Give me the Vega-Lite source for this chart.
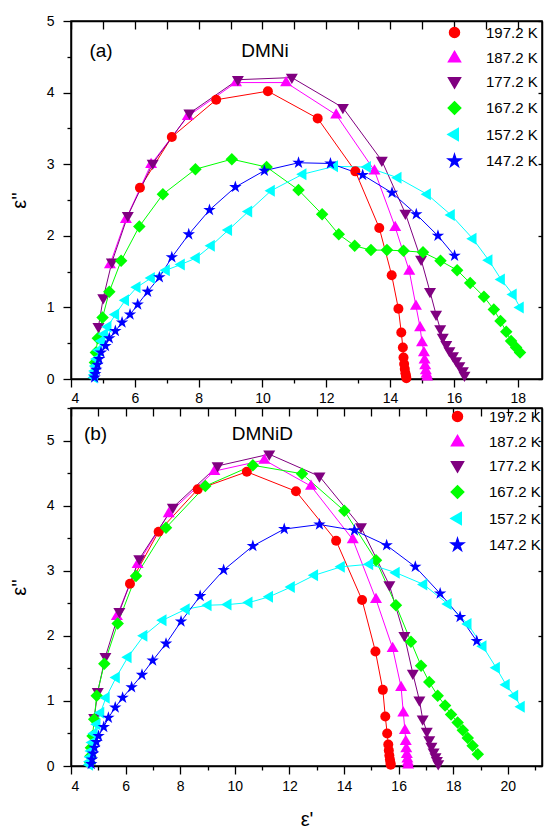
{
"$schema": "https://vega.github.io/schema/vega-lite/v6.json",
"padding": {"left": 8, "top": 13, "right": 0, "bottom": 5},
"background": "white",
"config": {
  "font": "Liberation Sans",
  "view": {"stroke": "black", "strokeWidth": 1.5},
  "axis": {"domainColor": "black", "domainWidth": 1.5, "tickColor": "black", "tickWidth": 1.3, "labelFontSize": 14, "labelColor": "black", "labelFont": "Liberation Sans", "titleFont": "Liberation Sans", "titleFontSize": 20, "titleFontWeight": "normal", "titleColor": "black", "grid": false, "format": "d"},
  "legend": {"orient": "top-right", "padding": 0, "symbolSize": 100, "labelOffset": 24, "rowPadding": 7.5, "labelFontSize": 15, "labelFont": "Liberation Sans", "labelColor": "black"}
},
"datasets": {
"a": [
{"T":"197.2 K","e1":6.16,"e2":2.67},{"T":"197.2 K","e1":7.16,"e2":3.38},{"T":"197.2 K","e1":8.55,"e2":3.90},{"T":"197.2 K","e1":10.17,"e2":4.02},{"T":"197.2 K","e1":11.73,"e2":3.64},{"T":"197.2 K","e1":12.91,"e2":2.90},{"T":"197.2 K","e1":13.66,"e2":2.11},{"T":"197.2 K","e1":14.05,"e2":1.45},{"T":"197.2 K","e1":14.26,"e2":0.98},{"T":"197.2 K","e1":14.35,"e2":0.65},{"T":"197.2 K","e1":14.40,"e2":0.44},{"T":"197.2 K","e1":14.42,"e2":0.30},{"T":"197.2 K","e1":14.44,"e2":0.21},{"T":"197.2 K","e1":14.46,"e2":0.14},{"T":"197.2 K","e1":14.48,"e2":0.08},{"T":"197.2 K","e1":14.50,"e2":0.04},{"T":"197.2 K","e1":14.51,"e2":0.01},
{"T":"187.2 K","e1":5.22,"e2":1.60},{"T":"187.2 K","e1":5.72,"e2":2.23},{"T":"187.2 K","e1":6.51,"e2":3.00},{"T":"187.2 K","e1":7.66,"e2":3.67},{"T":"187.2 K","e1":9.17,"e2":4.14},{"T":"187.2 K","e1":10.74,"e2":4.14},{"T":"187.2 K","e1":12.31,"e2":3.69},{"T":"187.2 K","e1":13.51,"e2":2.91},{"T":"187.2 K","e1":14.16,"e2":2.12},{"T":"187.2 K","e1":14.60,"e2":1.51},{"T":"187.2 K","e1":14.81,"e2":1.02},{"T":"187.2 K","e1":14.94,"e2":0.72},{"T":"187.2 K","e1":15.00,"e2":0.51},{"T":"187.2 K","e1":15.06,"e2":0.37},{"T":"187.2 K","e1":15.08,"e2":0.27},{"T":"187.2 K","e1":15.10,"e2":0.19},{"T":"187.2 K","e1":15.12,"e2":0.12},{"T":"187.2 K","e1":15.14,"e2":0.07},{"T":"187.2 K","e1":15.16,"e2":0.03},
{"T":"177.2 K","e1":4.86,"e2":0.73},{"T":"177.2 K","e1":5.01,"e2":1.13},{"T":"177.2 K","e1":5.28,"e2":1.63},{"T":"177.2 K","e1":5.78,"e2":2.28},{"T":"177.2 K","e1":6.56,"e2":3.01},{"T":"177.2 K","e1":7.71,"e2":3.71},{"T":"177.2 K","e1":9.23,"e2":4.18},{"T":"177.2 K","e1":10.92,"e2":4.21},{"T":"177.2 K","e1":12.52,"e2":3.79},{"T":"177.2 K","e1":13.74,"e2":3.05},{"T":"177.2 K","e1":14.48,"e2":2.31},{"T":"177.2 K","e1":14.97,"e2":1.67},{"T":"177.2 K","e1":15.25,"e2":1.22},{"T":"177.2 K","e1":15.44,"e2":0.90},{"T":"177.2 K","e1":15.57,"e2":0.70},{"T":"177.2 K","e1":15.65,"e2":0.58},{"T":"177.2 K","e1":15.76,"e2":0.48},{"T":"177.2 K","e1":15.86,"e2":0.39},{"T":"177.2 K","e1":15.97,"e2":0.32},{"T":"177.2 K","e1":16.07,"e2":0.25},{"T":"177.2 K","e1":16.17,"e2":0.18},{"T":"177.2 K","e1":16.28,"e2":0.11},{"T":"177.2 K","e1":16.33,"e2":0.05},
{"T":"167.2 K","e1":4.75,"e2":0.23},{"T":"167.2 K","e1":4.78,"e2":0.37},{"T":"167.2 K","e1":4.84,"e2":0.57},{"T":"167.2 K","e1":4.99,"e2":0.86},{"T":"167.2 K","e1":5.20,"e2":1.22},{"T":"167.2 K","e1":5.57,"e2":1.65},{"T":"167.2 K","e1":6.14,"e2":2.13},{"T":"167.2 K","e1":6.88,"e2":2.58},{"T":"167.2 K","e1":7.90,"e2":2.93},{"T":"167.2 K","e1":9.04,"e2":3.07},{"T":"167.2 K","e1":10.13,"e2":2.96},{"T":"167.2 K","e1":11.13,"e2":2.64},{"T":"167.2 K","e1":11.87,"e2":2.30},{"T":"167.2 K","e1":12.39,"e2":2.02},{"T":"167.2 K","e1":12.89,"e2":1.86},{"T":"167.2 K","e1":13.40,"e2":1.80},{"T":"167.2 K","e1":13.90,"e2":1.80},{"T":"167.2 K","e1":14.42,"e2":1.79},{"T":"167.2 K","e1":15.03,"e2":1.77},{"T":"167.2 K","e1":15.58,"e2":1.65},{"T":"167.2 K","e1":16.10,"e2":1.52},{"T":"167.2 K","e1":16.51,"e2":1.34},{"T":"167.2 K","e1":16.94,"e2":1.15},{"T":"167.2 K","e1":17.25,"e2":0.97},{"T":"167.2 K","e1":17.46,"e2":0.81},{"T":"167.2 K","e1":17.64,"e2":0.66},{"T":"167.2 K","e1":17.79,"e2":0.53},{"T":"167.2 K","e1":17.95,"e2":0.44},{"T":"167.2 K","e1":18.07,"e2":0.37},
{"T":"157.2 K","e1":4.72,"e2":0.02},{"T":"157.2 K","e1":4.73,"e2":0.06},{"T":"157.2 K","e1":4.74,"e2":0.11},{"T":"157.2 K","e1":4.76,"e2":0.18},{"T":"157.2 K","e1":4.80,"e2":0.28},{"T":"157.2 K","e1":4.86,"e2":0.40},{"T":"157.2 K","e1":4.95,"e2":0.53},{"T":"157.2 K","e1":5.04,"e2":0.63},{"T":"157.2 K","e1":5.15,"e2":0.73},{"T":"157.2 K","e1":5.39,"e2":0.90},{"T":"157.2 K","e1":5.70,"e2":1.10},{"T":"157.2 K","e1":6.06,"e2":1.28},{"T":"157.2 K","e1":6.51,"e2":1.41},{"T":"157.2 K","e1":6.98,"e2":1.52},{"T":"157.2 K","e1":7.45,"e2":1.60},{"T":"157.2 K","e1":7.92,"e2":1.69},{"T":"157.2 K","e1":8.39,"e2":1.86},{"T":"157.2 K","e1":8.93,"e2":2.08},{"T":"157.2 K","e1":9.56,"e2":2.34},{"T":"157.2 K","e1":10.27,"e2":2.63},{"T":"157.2 K","e1":11.26,"e2":2.86},{"T":"157.2 K","e1":12.25,"e2":2.97},{"T":"157.2 K","e1":13.28,"e2":2.96},{"T":"157.2 K","e1":14.24,"e2":2.81},{"T":"157.2 K","e1":15.16,"e2":2.58},{"T":"157.2 K","e1":15.91,"e2":2.29},{"T":"157.2 K","e1":16.59,"e2":1.96},{"T":"157.2 K","e1":17.09,"e2":1.66},{"T":"157.2 K","e1":17.48,"e2":1.39},{"T":"157.2 K","e1":17.85,"e2":1.18},{"T":"157.2 K","e1":18.07,"e2":1.00},
{"T":"147.2 K","e1":4.74,"e2":0.02},{"T":"147.2 K","e1":4.76,"e2":0.07},{"T":"147.2 K","e1":4.79,"e2":0.13},{"T":"147.2 K","e1":4.83,"e2":0.20},{"T":"147.2 K","e1":4.88,"e2":0.28},{"T":"147.2 K","e1":4.94,"e2":0.37},{"T":"147.2 K","e1":5.08,"e2":0.46},{"T":"147.2 K","e1":5.20,"e2":0.57},{"T":"147.2 K","e1":5.39,"e2":0.67},{"T":"147.2 K","e1":5.60,"e2":0.79},{"T":"147.2 K","e1":5.85,"e2":0.90},{"T":"147.2 K","e1":6.09,"e2":1.04},{"T":"147.2 K","e1":6.40,"e2":1.22},{"T":"147.2 K","e1":6.77,"e2":1.42},{"T":"147.2 K","e1":7.16,"e2":1.70},{"T":"147.2 K","e1":7.69,"e2":2.02},{"T":"147.2 K","e1":8.34,"e2":2.36},{"T":"147.2 K","e1":9.15,"e2":2.68},{"T":"147.2 K","e1":10.06,"e2":2.91},{"T":"147.2 K","e1":11.13,"e2":3.02},{"T":"147.2 K","e1":12.13,"e2":3.01},{"T":"147.2 K","e1":13.14,"e2":2.85},{"T":"147.2 K","e1":14.06,"e2":2.60},{"T":"147.2 K","e1":14.82,"e2":2.30},{"T":"147.2 K","e1":15.50,"e2":2.00},{"T":"147.2 K","e1":16.02,"e2":1.72}
],
"b": [
{"T":"197.2 K","e1":6.16,"e2":2.80},{"T":"197.2 K","e1":7.21,"e2":3.60},{"T":"197.2 K","e1":8.64,"e2":4.25},{"T":"197.2 K","e1":10.44,"e2":4.52},{"T":"197.2 K","e1":12.24,"e2":4.22},{"T":"197.2 K","e1":13.71,"e2":3.46},{"T":"197.2 K","e1":14.66,"e2":2.55},{"T":"197.2 K","e1":15.15,"e2":1.76},{"T":"197.2 K","e1":15.42,"e2":1.17},{"T":"197.2 K","e1":15.51,"e2":0.76},{"T":"197.2 K","e1":15.58,"e2":0.50},{"T":"197.2 K","e1":15.62,"e2":0.33},{"T":"197.2 K","e1":15.64,"e2":0.24},{"T":"197.2 K","e1":15.66,"e2":0.16},{"T":"197.2 K","e1":15.68,"e2":0.10},{"T":"197.2 K","e1":15.70,"e2":0.05},{"T":"197.2 K","e1":15.71,"e2":0.02},
{"T":"187.2 K","e1":5.68,"e2":2.30},{"T":"187.2 K","e1":6.44,"e2":3.10},{"T":"187.2 K","e1":7.58,"e2":3.88},{"T":"187.2 K","e1":9.25,"e2":4.53},{"T":"187.2 K","e1":11.08,"e2":4.70},{"T":"187.2 K","e1":12.79,"e2":4.30},{"T":"187.2 K","e1":14.32,"e2":3.48},{"T":"187.2 K","e1":15.17,"e2":2.56},{"T":"187.2 K","e1":15.78,"e2":1.81},{"T":"187.2 K","e1":16.09,"e2":1.21},{"T":"187.2 K","e1":16.17,"e2":0.82},{"T":"187.2 K","e1":16.23,"e2":0.55},{"T":"187.2 K","e1":16.26,"e2":0.38},{"T":"187.2 K","e1":16.28,"e2":0.27},{"T":"187.2 K","e1":16.30,"e2":0.18},{"T":"187.2 K","e1":16.32,"e2":0.11},{"T":"187.2 K","e1":16.34,"e2":0.06},{"T":"187.2 K","e1":16.35,"e2":0.02},
{"T":"177.2 K","e1":4.85,"e2":0.74},{"T":"177.2 K","e1":4.98,"e2":1.14},{"T":"177.2 K","e1":5.26,"e2":1.68},{"T":"177.2 K","e1":5.77,"e2":2.37},{"T":"177.2 K","e1":6.50,"e2":3.18},{"T":"177.2 K","e1":7.73,"e2":3.97},{"T":"177.2 K","e1":9.37,"e2":4.61},{"T":"177.2 K","e1":11.26,"e2":4.79},{"T":"177.2 K","e1":13.10,"e2":4.45},{"T":"177.2 K","e1":14.62,"e2":3.67},{"T":"177.2 K","e1":15.66,"e2":2.78},{"T":"177.2 K","e1":16.21,"e2":2.00},{"T":"177.2 K","e1":16.52,"e2":1.42},{"T":"177.2 K","e1":16.76,"e2":1.01},{"T":"177.2 K","e1":16.88,"e2":0.72},{"T":"177.2 K","e1":17.03,"e2":0.53},{"T":"177.2 K","e1":17.12,"e2":0.40},{"T":"177.2 K","e1":17.20,"e2":0.30},{"T":"177.2 K","e1":17.28,"e2":0.21},{"T":"177.2 K","e1":17.35,"e2":0.14},{"T":"177.2 K","e1":17.40,"e2":0.08},{"T":"177.2 K","e1":17.45,"e2":0.03},
{"T":"167.2 K","e1":4.70,"e2":0.05},{"T":"167.2 K","e1":4.71,"e2":0.15},{"T":"167.2 K","e1":4.73,"e2":0.28},{"T":"167.2 K","e1":4.79,"e2":0.46},{"T":"167.2 K","e1":4.85,"e2":0.72},{"T":"167.2 K","e1":4.94,"e2":1.08},{"T":"167.2 K","e1":5.22,"e2":1.57},{"T":"167.2 K","e1":5.71,"e2":2.19},{"T":"167.2 K","e1":6.38,"e2":2.92},{"T":"167.2 K","e1":7.48,"e2":3.66},{"T":"167.2 K","e1":8.92,"e2":4.30},{"T":"167.2 K","e1":10.66,"e2":4.62},{"T":"167.2 K","e1":12.46,"e2":4.49},{"T":"167.2 K","e1":14.01,"e2":3.92},{"T":"167.2 K","e1":15.17,"e2":3.16},{"T":"167.2 K","e1":15.90,"e2":2.47},{"T":"167.2 K","e1":16.45,"e2":1.91},{"T":"167.2 K","e1":16.82,"e2":1.54},{"T":"167.2 K","e1":17.12,"e2":1.29},{"T":"167.2 K","e1":17.43,"e2":1.08},{"T":"167.2 K","e1":17.70,"e2":0.93},{"T":"167.2 K","e1":17.92,"e2":0.79},{"T":"167.2 K","e1":18.16,"e2":0.67},{"T":"167.2 K","e1":18.35,"e2":0.55},{"T":"167.2 K","e1":18.53,"e2":0.43},{"T":"167.2 K","e1":18.71,"e2":0.31},{"T":"167.2 K","e1":18.90,"e2":0.18},
{"T":"157.2 K","e1":4.67,"e2":0.02},{"T":"157.2 K","e1":4.68,"e2":0.07},{"T":"157.2 K","e1":4.70,"e2":0.14},{"T":"157.2 K","e1":4.73,"e2":0.23},{"T":"157.2 K","e1":4.77,"e2":0.36},{"T":"157.2 K","e1":4.84,"e2":0.50},{"T":"157.2 K","e1":4.94,"e2":0.64},{"T":"157.2 K","e1":5.08,"e2":0.82},{"T":"157.2 K","e1":5.28,"e2":1.05},{"T":"157.2 K","e1":5.65,"e2":1.36},{"T":"157.2 K","e1":6.08,"e2":1.67},{"T":"157.2 K","e1":6.66,"e2":2.00},{"T":"157.2 K","e1":7.36,"e2":2.24},{"T":"157.2 K","e1":8.21,"e2":2.41},{"T":"157.2 K","e1":9.01,"e2":2.47},{"T":"157.2 K","e1":9.74,"e2":2.48},{"T":"157.2 K","e1":10.51,"e2":2.51},{"T":"157.2 K","e1":11.26,"e2":2.60},{"T":"157.2 K","e1":12.06,"e2":2.75},{"T":"157.2 K","e1":12.91,"e2":2.93},{"T":"157.2 K","e1":13.89,"e2":3.06},{"T":"157.2 K","e1":14.93,"e2":3.10},{"T":"157.2 K","e1":15.90,"e2":2.97},{"T":"157.2 K","e1":16.91,"e2":2.79},{"T":"157.2 K","e1":17.80,"e2":2.49},{"T":"157.2 K","e1":18.53,"e2":2.18},{"T":"157.2 K","e1":19.08,"e2":1.84},{"T":"157.2 K","e1":19.57,"e2":1.51},{"T":"157.2 K","e1":19.93,"e2":1.25},{"T":"157.2 K","e1":20.24,"e2":1.08},{"T":"157.2 K","e1":20.48,"e2":0.91},
{"T":"147.2 K","e1":4.74,"e2":0.03},{"T":"147.2 K","e1":4.77,"e2":0.10},{"T":"147.2 K","e1":4.81,"e2":0.19},{"T":"147.2 K","e1":4.86,"e2":0.28},{"T":"147.2 K","e1":4.93,"e2":0.37},{"T":"147.2 K","e1":5.01,"e2":0.46},{"T":"147.2 K","e1":5.20,"e2":0.60},{"T":"147.2 K","e1":5.37,"e2":0.74},{"T":"147.2 K","e1":5.62,"e2":0.90},{"T":"147.2 K","e1":5.89,"e2":1.05},{"T":"147.2 K","e1":6.22,"e2":1.21},{"T":"147.2 K","e1":6.60,"e2":1.40},{"T":"147.2 K","e1":6.99,"e2":1.62},{"T":"147.2 K","e1":7.48,"e2":1.88},{"T":"147.2 K","e1":8.03,"e2":2.22},{"T":"147.2 K","e1":8.73,"e2":2.61},{"T":"147.2 K","e1":9.59,"e2":3.01},{"T":"147.2 K","e1":10.66,"e2":3.38},{"T":"147.2 K","e1":11.81,"e2":3.64},{"T":"147.2 K","e1":13.10,"e2":3.71},{"T":"147.2 K","e1":14.38,"e2":3.62},{"T":"147.2 K","e1":15.56,"e2":3.39},{"T":"147.2 K","e1":16.61,"e2":3.06},{"T":"147.2 K","e1":17.52,"e2":2.65},{"T":"147.2 K","e1":18.25,"e2":2.29},{"T":"147.2 K","e1":18.86,"e2":1.92}
]
},
"spacing": 29,
"bounds": "flush",
"resolve": {"scale": {"x": "independent", "y": "independent", "color": "independent", "shape": "independent"}, "legend": {"color": "independent", "shape": "independent"}, "axis": {"x": "independent", "y": "independent"}},
"vconcat": [
{
  "width": 471, "height": 358,
  "layer": [
    {"data": {"name": "a"}, "mark": {"type": "line", "strokeWidth": 1},
     "encoding": {
       "x": {"field": "e1", "type": "quantitative", "scale": {"domain": [4, 18.76], "nice": false, "zero": false},
             "axis": {"orient": "bottom", "values": [4,5,6,7,8,9,10,11,12,13,14,15,16,17,18], "labelExpr": "datum.value % 2 === 0 ? datum.label : ''", "tickSize": {"condition": {"test": "datum.value % 2 === 0", "value": 8}, "value": 4}, "labelPadding": 4, "title": null}},
       "y": {"field": "e2", "type": "quantitative", "scale": {"domain": [0, 5], "nice": false, "zero": false},
             "axis": {"orient": "left", "values": [0,0.5,1,1.5,2,2.5,3,3.5,4,4.5,5], "labelExpr": "datum.value % 1 === 0 ? datum.label : ''", "tickSize": {"condition": {"test": "datum.value % 1 === 0", "value": 8}, "value": 4}, "labelPadding": 9, "title": "ε''", "titlePadding": 17}},
       "color": {"field": "T", "type": "nominal", "scale": {"domain": ["197.2 K","187.2 K","177.2 K","167.2 K","157.2 K","147.2 K"], "range": ["#ff0000","#ff00ff","#800080","#00ff00","#00ffff","#0000ff"]}}
     }},
    {"data": {"name": "a"}, "mark": {"type": "point", "filled": true, "opacity": 1, "size": 100},
     "encoding": {
       "x": {"field": "e1", "type": "quantitative", "axis": {"orient": "top", "values": [4,5,6,7,8,9,10,11,12,13,14,15,16,17,18], "labels": false, "tickSize": -8, "title": null}},
       "y": {"field": "e2", "type": "quantitative", "axis": {"orient": "right", "values": [0,1,2,3,4,5], "labels": false, "tickSize": -4, "title": null}},
       "color": {"field": "T", "type": "nominal", "legend": {"offset": 4, "title": null}},
       "shape": {"field": "T", "type": "nominal", "legend": null, "scale": {"domain": ["197.2 K","187.2 K","177.2 K","167.2 K","157.2 K","147.2 K"], "range": ["circle","M0,-1.3L1.2,0.75L-1.2,0.75Z","M0,1.3L1.2,-0.75L-1.2,-0.75Z","M0,-1.25L1.25,0L0,1.25L-1.25,0Z","M-1.3,0L0.75,-1.2L0.75,1.2Z","M0,-1.3L0.294,-0.405L1.236,-0.402L0.476,0.155L0.764,1.052L0,0.5L-0.764,1.052L-0.476,0.155L-1.236,-0.402L-0.294,-0.405Z"]}}
     }},
    {"data": {"values": [{}]}, "mark": {"type": "text", "fontSize": 19, "font": "Liberation Sans", "align": "center", "baseline": "middle", "color": "black"},
     "encoding": {"x": {"datum": 4.94, "type": "quantitative", "axis": null}, "y": {"datum": 4.58, "type": "quantitative", "axis": null}, "text": {"value": "(a)"}}},
    {"data": {"values": [{}]}, "mark": {"type": "text", "fontSize": 19, "font": "Liberation Sans", "align": "center", "baseline": "middle", "color": "black"},
     "encoding": {"x": {"datum": 10.08, "type": "quantitative", "axis": null}, "y": {"datum": 4.58, "type": "quantitative", "axis": null}, "text": {"value": "DMNi"}}}
  ],
  "resolve": {"axis": {"x": "independent", "y": "independent"}}
},
{
  "width": 471, "height": 358,
  "layer": [
    {"data": {"name": "b"}, "mark": {"type": "line", "strokeWidth": 1},
     "encoding": {
       "x": {"field": "e1", "type": "quantitative", "scale": {"domain": [4, 21.25], "nice": false, "zero": false},
             "axis": {"orient": "bottom", "values": [4,5,6,7,8,9,10,11,12,13,14,15,16,17,18,19,20,21], "labelExpr": "datum.value % 2 === 0 ? datum.label : ''", "tickSize": {"condition": {"test": "datum.value % 2 === 0", "value": 8}, "value": 4}, "labelPadding": 5, "title": "ε'", "titlePadding": 16}},
       "y": {"field": "e2", "type": "quantitative", "scale": {"domain": [0, 5.5], "nice": false, "zero": false},
             "axis": {"orient": "left", "values": [0,0.5,1,1.5,2,2.5,3,3.5,4,4.5,5,5.5], "labelExpr": "datum.value % 1 === 0 ? datum.label : ''", "tickSize": {"condition": {"test": "datum.value % 1 === 0", "value": 8}, "value": 4}, "labelPadding": 9, "title": "ε''", "titlePadding": 17}},
       "color": {"field": "T", "type": "nominal", "scale": {"domain": ["197.2 K","187.2 K","177.2 K","167.2 K","157.2 K","147.2 K"], "range": ["#ff0000","#ff00ff","#800080","#00ff00","#00ffff","#0000ff"]}}
     }},
    {"data": {"name": "b"}, "mark": {"type": "point", "filled": true, "opacity": 1, "size": 100},
     "encoding": {
       "x": {"field": "e1", "type": "quantitative", "axis": {"orient": "top", "values": [4,5,6,7,8,9,10,11,12,13,14,15,16,17,18,19,20,21], "labels": false, "tickSize": -8, "title": null}},
       "y": {"field": "e2", "type": "quantitative", "axis": {"orient": "right", "values": [0,1,2,3,4,5], "labels": false, "tickSize": -4, "title": null}},
       "color": {"field": "T", "type": "nominal", "legend": {"offset": 1, "title": null}},
       "shape": {"field": "T", "type": "nominal", "legend": null, "scale": {"domain": ["197.2 K","187.2 K","177.2 K","167.2 K","157.2 K","147.2 K"], "range": ["circle","M0,-1.3L1.2,0.75L-1.2,0.75Z","M0,1.3L1.2,-0.75L-1.2,-0.75Z","M0,-1.25L1.25,0L0,1.25L-1.25,0Z","M-1.3,0L0.75,-1.2L0.75,1.2Z","M0,-1.3L0.294,-0.405L1.236,-0.402L0.476,0.155L0.764,1.052L0,0.5L-0.764,1.052L-0.476,0.155L-1.236,-0.402L-0.294,-0.405Z"]}}
     }},
    {"data": {"values": [{}]}, "mark": {"type": "text", "fontSize": 19, "font": "Liberation Sans", "align": "center", "baseline": "middle", "color": "black"},
     "encoding": {"x": {"datum": 4.9, "type": "quantitative", "axis": null}, "y": {"datum": 5.1, "type": "quantitative", "axis": null}, "text": {"value": "(b)"}}},
    {"data": {"values": [{}]}, "mark": {"type": "text", "fontSize": 19, "font": "Liberation Sans", "align": "center", "baseline": "middle", "color": "black"},
     "encoding": {"x": {"datum": 11.01, "type": "quantitative", "axis": null}, "y": {"datum": 5.1, "type": "quantitative", "axis": null}, "text": {"value": "DMNiD"}}}
  ],
  "resolve": {"axis": {"x": "independent", "y": "independent"}}
}
]
}
